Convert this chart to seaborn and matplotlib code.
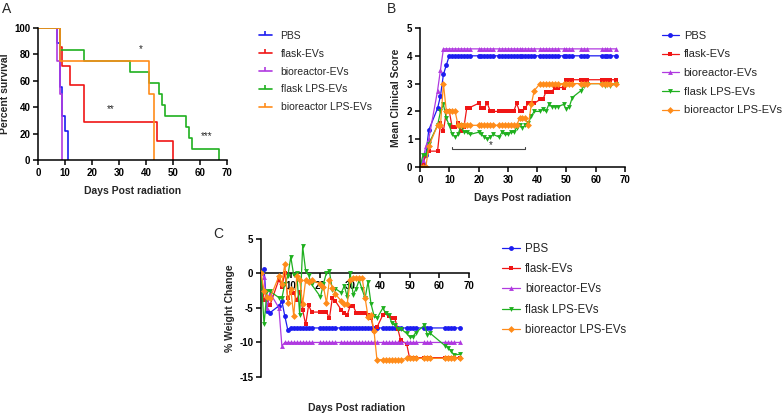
import numpy as np
import pandas as pd
import matplotlib
matplotlib.use("Agg")
import matplotlib.pyplot as plt
from matplotlib.lines import Line2D
import seaborn as sns

groups = ["PBS", "flask-EVs", "bioreactor-EVs", "flask LPS-EVs", "bioreactor LPS-EVs"]
colors = ["#1c1cf0", "#f01515", "#b03ae0", "#1fb01f", "#ff8c1a"]
markers = ["o", "s", "^", "v", "D"]

# Panel A: Kaplan-Meier survival (time of each step, survival after step)
pbs_t = [0, 7, 8, 9, 10, 11]
pbs_s = [100, 88.9, 55.6, 33.3, 22.2, 0]
flask_t = [0, 8, 9, 12, 17, 44, 50]
flask_s = [100, 85.7, 71.4, 57.1, 28.6, 14.3, 0]
bio_t = [0, 7, 8, 9]
bio_s = [100, 75, 50, 0]
flps_t = [0, 8, 17, 34, 41, 45, 46, 47, 55, 56, 57, 67]
flps_s = [100, 83.3, 75, 66.7, 58.3, 50, 41.7, 33.3, 25, 16.7, 8.3, 0]
blps_t = [0, 8, 41, 43]
blps_s = [100, 75, 50, 0]

# Panels B and C: measurement days
days = [0, 1, 2, 3, 6, 7, 8, 9, 10, 11, 12, 13, 14, 15, 16, 17, 20, 21, 22, 23,
        24, 25, 27, 28, 29, 30, 31, 32, 33, 34, 35, 36, 37, 38, 39, 41, 42, 43, 44, 45,
        46, 47, 49, 50, 51, 52, 55, 56, 57, 62, 63, 64, 65, 67]

# Panel B: mean clinical score
pbs_score = [0, 0.11, 0.44, 1.33, 2.11, 2.56, 3.33, 3.67, 4.0, 4.0,
             4.0, 4.0, 4.0, 4.0, 4.0, 4.0, 4.0, 4.0, 4.0, 4.0,
             4.0, 4.0, 4.0, 4.0, 4.0, 4.0, 4.0, 4.0, 4.0, 4.0,
             4.0, 4.0, 4.0, 4.0, 4.0, 4.0, 4.0, 4.0, 4.0, 4.0,
             4.0, 4.0, 4.0, 4.0, 4.0, 4.0, 4.0, 4.0, 4.0, 4.0,
             4.0, 4.0, 4.0, 4.0]
flask_score = [0, 0.14, 0.43, 0.57, 0.57, 1.57, 1.29, 2.0, 2.0, 1.43,
               1.43, 1.57, 1.29, 1.43, 2.14, 2.14, 2.29, 2.14, 2.14, 2.29,
               2.0, 2.0, 2.0, 2.0, 2.0, 2.0, 2.0, 2.0, 2.29, 2.0,
               2.0, 2.14, 2.29, 2.29, 2.29, 2.43, 2.43, 2.71, 2.71, 2.71,
               2.86, 2.86, 2.86, 3.14, 3.14, 3.14, 3.14, 3.14, 3.14, 3.14,
               3.14, 3.14, 3.14, 3.14]
bio_score = [0, 0.25, 0.75, 1.0, 2.75, 3.5, 4.25, 4.25, 4.25, 4.25,
             4.25, 4.25, 4.25, 4.25, 4.25, 4.25, 4.25, 4.25, 4.25, 4.25,
             4.25, 4.25, 4.25, 4.25, 4.25, 4.25, 4.25, 4.25, 4.25, 4.25,
             4.25, 4.25, 4.25, 4.25, 4.25, 4.25, 4.25, 4.25, 4.25, 4.25,
             4.25, 4.25, 4.25, 4.25, 4.25, 4.25, 4.25, 4.25, 4.25, 4.25,
             4.25, 4.25, 4.25, 4.25]
flps_score = [0, 0.42, 0.42, 0.83, 1.5, 2.0, 2.25, 1.75, 1.5, 1.17,
              1.08, 1.17, 1.5, 1.25, 1.25, 1.17, 1.25, 1.17, 1.08, 1.0,
              1.08, 1.17, 1.08, 1.25, 1.17, 1.17, 1.25, 1.25, 1.42, 1.5,
              1.42, 1.5, 1.58, 1.83, 2.0, 2.0, 2.08, 2.0, 2.25, 2.17,
              2.17, 2.17, 2.25, 2.08, 2.17, 2.5, 2.75, 2.92, 3.0, 3.0,
              2.92, 3.0, 2.92, 3.0]
blps_score = [0, 0, 0, 0.75, 1.5, 1.5, 3.0, 2.0, 2.0, 2.0,
              2.0, 1.5, 1.5, 1.5, 1.5, 1.5, 1.5, 1.5, 1.5, 1.5,
              1.5, 1.5, 1.5, 1.5, 1.5, 1.5, 1.5, 1.5, 1.5, 1.75,
              1.75, 1.75, 1.5, 2.25, 2.75, 3.0, 3.0, 3.0, 3.0, 3.0,
              3.0, 3.0, 3.0, 3.0, 3.0, 3.0, 3.0, 3.0, 3.0, 3.0,
              3.0, 3.0, 3.0, 3.0]

# Panel C: % weight change
pbs_wt = [0, 0.7, -5.4, -5.7, -4.7, -4.0, -6.2, -8.2, -7.9, -7.9,
          -7.9, -7.9, -7.9, -7.9, -7.9, -7.9, -7.9, -7.9, -7.9, -7.9,
          -7.9, -7.9, -7.9, -7.9, -7.9, -7.9, -7.9, -7.9, -7.9, -7.9,
          -7.9, -7.9, -7.9, -7.9, -7.9, -7.9, -7.9, -7.9, -7.9, -7.9,
          -7.9, -7.9, -7.9, -7.9, -7.9, -7.9, -7.9, -7.9, -7.9, -7.9,
          -7.9, -7.9, -7.9, -7.9]
flask_wt = [0, -3.8, -3.8, -4.6, -0.9, -1.9, 0.1, -3.6, -2.8, -2.8,
            -3.9, -2.7, -5.3, -7.4, -4.6, -5.6, -5.6, -5.6, -5.6, -6.5,
            -3.5, -4.0, -5.3, -5.8, -6.0, -4.7, -4.7, -5.7, -5.7, -5.7,
            -5.8, -6.0, -6.4, -8.4, -7.8, -6.0, -5.8, -6.2, -6.5, -6.5,
            -8.0, -9.7, -10.2, -12.3, -12.2, -12.2, -12.2, -12.2, -12.2, -12.2,
            -12.2, -12.2, -12.2, -12.2]
bio_wt = [0, -0.5, -5.0, -2.8, -5.0, -10.5, -10.0, -10.0, -10.0, -10.0,
          -10.0, -10.0, -10.0, -10.0, -10.0, -10.0, -10.0, -10.0, -10.0, -10.0,
          -10.0, -10.0, -10.0, -10.0, -10.0, -10.0, -10.0, -10.0, -10.0, -10.0,
          -10.0, -10.0, -10.0, -10.0, -10.0, -10.0, -10.0, -10.0, -10.0, -10.0,
          -10.0, -10.0, -10.0, -10.0, -10.0, -10.0, -10.0, -10.0, -10.0, -10.0,
          -10.0, -10.0, -10.0, -10.0]
flps_wt = [0, -7.4, -2.5, -2.6, -3.5, -3.6, -1.5, -0.4, 2.4, -0.3,
           0.1, -6.0, 3.9, 0.4, -0.3, -1.6, -3.4, -1.5, 0.1, 0.3,
           -2.4, -2.2, -2.8, -1.8, -3.4, 0.0, -3.1, -2.2, -1.0, -2.3,
           -3.6, -1.2, -4.4, -6.1, -6.5, -5.0, -5.8, -6.0, -7.2, -7.5,
           -8.0, -8.0, -8.7, -9.2, -9.2, -8.6, -7.5, -8.9, -8.7, -10.5,
           -10.8, -11.3, -11.8, -11.7]
blps_wt = [0, -2.5, -3.4, -3.6, -0.4, -1.5, 1.4, -4.3, -2.3, -6.2,
           -0.4, -1.0, -4.4, -1.0, -1.2, -1.0, -1.5, -1.9, -4.3, -1.0,
           -2.1, -3.0, -4.0, -4.4, -4.4, -1.0, -0.6, -0.6, -0.6, -0.6,
           -3.5, -6.3, -6.0, -8.3, -12.5, -12.5, -12.5, -12.5, -12.5, -12.5,
           -12.5, -12.5, -12.3, -12.3, -12.3, -12.3, -12.3, -12.3, -12.3, -12.3,
           -12.3, -12.3, -12.3, -12.3]

surv = pd.concat([pd.DataFrame({"day": t, "value": s, "group": g}) for g, t, s in
                  zip(groups, [pbs_t, flask_t, bio_t, flps_t, blps_t],
                      [pbs_s, flask_s, bio_s, flps_s, blps_s])])
score = pd.concat([pd.DataFrame({"day": days, "value": v, "group": g}) for g, v in
                   zip(groups, [pbs_score, flask_score, bio_score, flps_score, blps_score])])
weight = pd.concat([pd.DataFrame({"day": days, "value": v, "group": g}) for g, v in
                    zip(groups, [pbs_wt, flask_wt, bio_wt, flps_wt, blps_wt])])

sns.set_style("ticks")
plt.rcParams["font.family"] = ["Liberation Sans", "DejaVu Sans"]
plt.rcParams["axes.unicode_minus"] = False
pal = dict(zip(groups, colors))
mk = dict(zip(groups, markers))

fig = plt.figure(figsize=(7.84, 4.16), dpi=100)
axA = fig.add_axes([0.0485, 0.6154, 0.241, 0.317])
axB = fig.add_axes([0.5357, 0.5986, 0.2615, 0.334])
axC = fig.add_axes([0.333, 0.0938, 0.2653, 0.332])

def style_axis(ax):
    sns.despine(ax=ax)
    for s in ["left", "bottom"]:
        ax.spines[s].set_linewidth(1.1)
        ax.spines[s].set_color("black")
    ax.tick_params(length=3.5, width=1.1, labelsize=7, pad=2, colors="black")
    for lab in ax.get_xticklabels() + ax.get_yticklabels():
        lab.set_fontweight("bold")

# ---- A: survival
sns.lineplot(data=surv, x="day", y="value", hue="group", palette=pal, estimator=None,
             drawstyle="steps-post", lw=1.2, legend=False, ax=axA)
axA.set_xlim(0, 70)
axA.set_ylim(0, 100)
axA.set_xticks(range(0, 71, 10))
axA.set_yticks(range(0, 101, 20))
axA.set_xlabel("Days Post radiation", fontsize=7.5, fontweight="bold", labelpad=6)
axA.set_ylabel("Percent survival", fontsize=7.5, fontweight="bold", labelpad=3)
style_axis(axA)
axA.text(38, 82, "*", ha="center", fontsize=7)
axA.text(27, 36, "**", ha="center", fontsize=7)
axA.text(62.5, 16, "***", ha="center", fontsize=7)
handles = [Line2D([], [], color=c, lw=1.2, marker=2, ms=3, mew=1.2) for c in colors]
axA.legend(handles, groups, loc="upper left", bbox_to_anchor=(0.318, 0.948),
           bbox_transform=fig.transFigure, frameon=False, fontsize=7.5,
           handlelength=1.3, handletextpad=0.8, labelspacing=0.75)

# ---- B: clinical score
sns.lineplot(data=score, x="day", y="value", hue="group", style="group", palette=pal,
             markers=mk, dashes=False, estimator=None, lw=0.9, markersize=3.5,
             markeredgewidth=0, ax=axB)
axB.set_xlim(0, 70)
axB.set_ylim(0, 5)
axB.set_xticks(range(0, 71, 10))
axB.set_yticks(range(0, 6))
axB.set_xlabel("Days Post radiation", fontsize=7.5, fontweight="bold", labelpad=6)
axB.set_ylabel("Mean Clinical Score", fontsize=7.5, fontweight="bold", labelpad=4)
style_axis(axB)
axB.plot([11, 11, 36, 36], [0.72, 0.64, 0.64, 0.72], color="#444444", lw=0.8)
axB.text(24, 0.68, "*", ha="center", fontsize=7)
sns.move_legend(axB, "upper left", bbox_to_anchor=(0.831, 0.95),
                bbox_transform=fig.transFigure, frameon=False, title=None,
                fontsize=8, handlelength=1.6, handletextpad=0.4, labelspacing=0.78)

# ---- C: weight change
sns.lineplot(data=weight, x="day", y="value", hue="group", style="group", palette=pal,
             markers=mk, dashes=False, estimator=None, lw=0.9, markersize=3.5,
             markeredgewidth=0, zorder=3, ax=axC)
axC.set_xlim(0, 70)
axC.set_ylim(-15, 5)
axC.set_xticks(range(10, 71, 10))
axC.set_yticks(range(-15, 6, 5))
axC.spines["bottom"].set_position(("data", 0))
axC.set_xlabel("Days Post radiation", fontsize=7.5, fontweight="bold")
axC.xaxis.set_label_coords(0.46, -0.19)
axC.set_ylabel("% Weight Change", fontsize=7.5, fontweight="bold", labelpad=3)
style_axis(axC)
sns.move_legend(axC, "upper left", bbox_to_anchor=(0.627, 0.44),
                bbox_transform=fig.transFigure, frameon=False, title=None,
                fontsize=8.3, handlelength=1.6, handletextpad=0.4, labelspacing=0.7)

fig.text(0.003, 0.995, "A", fontsize=10, va="top")
fig.text(0.494, 0.995, "B", fontsize=10, va="top")
fig.text(0.272, 0.455, "C", fontsize=10, va="top")

fig.savefig("out.png", dpi=100)
